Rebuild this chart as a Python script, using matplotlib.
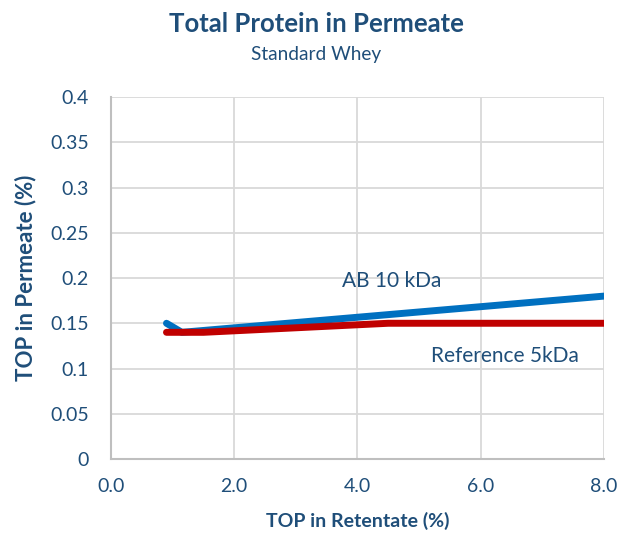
import matplotlib
matplotlib.use("Agg")
import matplotlib.pyplot as plt

ab_x = [0.9, 1.15, 8.0]
ab_y = [0.150, 0.140, 0.180]
ref_x = [0.9, 1.5, 4.5, 8.0]
ref_y = [0.140, 0.140, 0.150, 0.150]
xticks = [0, 2, 4, 6, 8]
yticks = [0, 0.05, 0.1, 0.15, 0.2, 0.25, 0.3, 0.35, 0.4]
ytick_labels = ["0", "0.05", "0.1", "0.15", "0.2", "0.25", "0.3", "0.35", "0.4"]

plt.rcParams['font.family'] = ['Lato', 'DejaVu Sans']
txt = '#1F4E79'

fig = plt.figure(figsize=(6.33, 5.35), dpi=100)
ax = fig.add_axes([0.1754, 0.142, 0.7786, 0.6767])
ax.plot(ab_x, ab_y, color='#0070C0', lw=5, solid_capstyle='round', solid_joinstyle='round', zorder=3)
ax.plot(ref_x, ref_y, color='#C00000', lw=5, solid_capstyle='round', solid_joinstyle='round', zorder=4)
ax.set_xlim(0, 8)
ax.set_ylim(0, 0.4)
ax.set_xticks(xticks)
ax.set_xticklabels([f"{v:.1f}" for v in xticks])
ax.set_yticks(yticks)
ax.set_yticklabels(ytick_labels)
ax.grid(True, color='#D9D9D9', lw=1.3)
ax.set_axisbelow(True)
for s in ['top', 'right']:
    ax.spines[s].set_visible(False)
for s in ['left', 'bottom']:
    ax.spines[s].set_color('#BFBFBF')
    ax.spines[s].set_linewidth(1.5)
ax.tick_params(length=0, labelsize=14, labelcolor=txt)
ax.tick_params(axis='y', pad=16)
ax.tick_params(axis='x', pad=14)
ax.set_xlabel('TOP in Retentate (%)', fontsize=14, fontweight='bold', color=txt, labelpad=12)
ax.set_ylabel('TOP in Permeate (%)', fontsize=16, fontweight='bold', color=txt, labelpad=10)
ax.text(3.75, 0.197, 'AB 10 kDa', fontsize=15, color=txt, va='center', ha='left')
ax.text(5.2, 0.114, 'Reference 5kDa', fontsize=15, color=txt, va='center', ha='left')
fig.text(0.5, 0.955, 'Total Protein in Permeate', fontsize=18.5, fontweight='bold', color=txt, ha='center', va='center')
fig.text(0.5, 0.898, 'Standard Whey', fontsize=13.7, color=txt, ha='center', va='center')
fig.savefig('out.png', dpi=100)
